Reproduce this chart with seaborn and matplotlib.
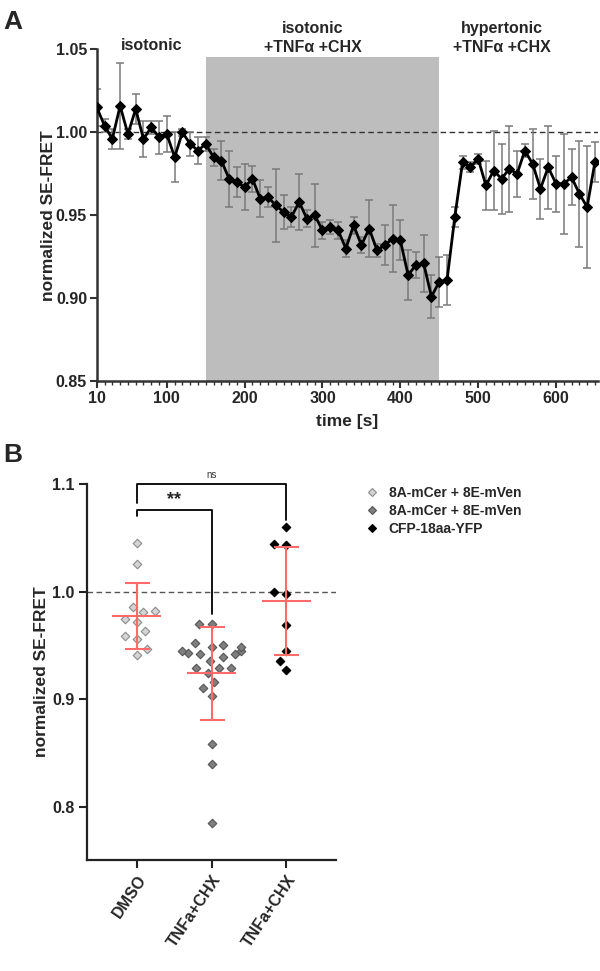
'''
SE-FRET time course (A) and end-point scatter (B)
'''

import numpy as np
import pandas as pd
import matplotlib.pyplot as plt
from matplotlib.lines import Line2D
from matplotlib.markers import MarkerStyle
from matplotlib.transforms import Affine2D
import seaborn as sns

# ---- Panel A data: mean +/- SEM every 10 s ----
time_s = list(range(10, 660, 10))
fret_mean = [1.015, 1.004, 0.996, 1.016, 0.999, 1.014, 0.996, 1.003, 0.997, 0.999,
             0.985, 1.000, 0.993, 0.989, 0.993, 0.985, 0.983, 0.972, 0.970, 0.967,
             0.972, 0.960, 0.961, 0.956, 0.952, 0.949, 0.958, 0.948, 0.950, 0.941,
             0.943, 0.941, 0.930, 0.944, 0.932, 0.942, 0.929, 0.932, 0.936, 0.935,
             0.914, 0.920, 0.921, 0.901, 0.910, 0.911, 0.949, 0.982, 0.979, 0.984,
             0.968, 0.977, 0.972, 0.978, 0.975, 0.989, 0.981, 0.966, 0.979, 0.969,
             0.969, 0.973, 0.963, 0.955, 0.982]
fret_sem = [0.011, 0.004, 0.006, 0.026, 0.003, 0.009, 0.011, 0.004, 0.010, 0.011,
            0.015, 0.002, 0.007, 0.008, 0.004, 0.005, 0.012, 0.017, 0.009, 0.014,
            0.008, 0.011, 0.006, 0.022, 0.010, 0.006, 0.017, 0.005, 0.019, 0.005,
            0.004, 0.005, 0.005, 0.005, 0.005, 0.017, 0.004, 0.012, 0.020, 0.012,
            0.015, 0.008, 0.017, 0.013, 0.015, 0.015, 0.006, 0.004, 0.003, 0.003,
            0.015, 0.024, 0.021, 0.026, 0.014, 0.004, 0.021, 0.018, 0.025, 0.017,
            0.030, 0.017, 0.032, 0.037, 0.012]
treat_start, treat_end = 150, 450
x_ticks_a = [10, 100, 200, 300, 400, 500, 600]

# ---- Panel B data: single cells ----
groups = ['DMSO', 'TNF_8A8E', 'TNF_CFP']
group_ticklabels = ['DMSO', 'TNFa+CHX', 'TNFa+CHX']
legend_labels = ['8A-mCer + 8E-mVen', '8A-mCer + 8E-mVen', 'CFP-18aa-YFP']
dmso = [1.045, 1.026, 0.986, 0.981, 0.982, 0.972, 0.975, 0.964, 0.959, 0.956,
        0.947, 0.941]
tnf_8a8e = [0.970, 0.970, 0.949, 0.945, 0.951, 0.952, 0.949, 0.943, 0.945, 0.942,
            0.942, 0.939, 0.936, 0.929, 0.929, 0.929, 0.925, 0.916, 0.911, 0.903,
            0.859, 0.840, 0.785]
tnf_cfp = [1.060, 1.043, 1.044, 0.998, 1.000, 0.969, 0.945, 0.936, 0.927]
fills = ['#d4d4d4', '#7f7f7f', '#000000']
edges = ['#8c8c8c', '#555555', '#000000']
red = '#ff6b6b'

df = pd.DataFrame({
    'group': ['DMSO'] * len(dmso) + ['TNF_8A8E'] * len(tnf_8a8e) + ['TNF_CFP'] * len(tnf_cfp),
    'fret': dmso + tnf_8a8e + tnf_cfp,
})

sns.set_theme(style='ticks')
plt.rcParams['font.family'] = ['Liberation Sans', 'DejaVu Sans']
plt.rcParams['font.weight'] = 'bold'
plt.rcParams['axes.labelweight'] = 'bold'

fig = plt.figure(figsize=(6, 9.71), dpi=100)
axA = fig.add_axes([0.1613, 0.6073, 0.8354, 0.3419])
axB = fig.add_axes([0.145, 0.1143, 0.415, 0.3872])

# ---------------- Panel A ----------------
axA.axvspan(treat_start, treat_end, ymin=0, ymax=0.977, color='#bdbdbd', lw=0, zorder=0)
axA.axhline(1.0, color='#333333', lw=1, ls=(0, (4, 2.5)), zorder=1)
axA.errorbar(time_s, fret_mean, yerr=fret_sem, fmt='none', ecolor='#7a7a7a',
             elinewidth=1.1, capsize=2.8, capthick=1.1, zorder=2)
sns.lineplot(x=time_s, y=fret_mean, ax=axA, color='black', lw=2, marker='D',
             markersize=5, markeredgecolor='black', zorder=3)

axA.set_xlim(10, 654)
axA.set_ylim(0.85, 1.05)
axA.set_xticks(x_ticks_a)
axA.set_xticks(list(range(10, 660, 10)), minor=True)
axA.set_yticks([0.85, 0.90, 0.95, 1.00, 1.05])
axA.set_yticklabels(['0.85', '0.90', '0.95', '1.00', '1.05'])
axA.tick_params(axis='both', which='major', labelsize=11.5, length=5, width=1.5, color='#333333', pad=2)
axA.tick_params(axis='x', which='minor', length=3, width=1, color='#333333')
axA.set_xlabel('time [s]', fontsize=12.5, labelpad=6)
axA.set_ylabel('normalized SE-FRET', fontsize=12.5, labelpad=0)
for s in ['top', 'right']:
    axA.spines[s].set_visible(False)
for s in ['left', 'bottom']:
    axA.spines[s].set_linewidth(1.8)
    axA.spines[s].set_color('#333333')

axA.text(81, 1.0523, 'isotonic', ha='center', va='center', fontsize=11.5, clip_on=False)
axA.text(287, 1.0628, 'isotonic', ha='center', va='center', fontsize=11.5, clip_on=False)
axA.text(287, 1.0514, '+TNF\u03b1 +CHX', ha='center', va='center', fontsize=11.5, clip_on=False)
axA.text(531, 1.0628, 'hypertonic', ha='center', va='center', fontsize=11.5, clip_on=False)
axA.text(531, 1.0514, '+TNF\u03b1 +CHX', ha='center', va='center', fontsize=11.5, clip_on=False)

# ---------------- Panel B ----------------
# diamond shrunk so the swarm spacing (computed for round dots) leaves gaps
small_diamond = MarkerStyle('D', transform=Affine2D().scale(0.58))
axB.axhline(1.0, color='#555555', lw=1, ls=(0, (4, 2.5)), zorder=1)
for g, fc, ec in zip(groups, fills, edges):
    sns.swarmplot(data=df[df['group'] == g], x='group', y='fret', order=groups, ax=axB,
                  color=fc, edgecolor=ec, linewidth=0.8, marker=small_diamond, size=7.5, zorder=3)

for i, vals in enumerate([dmso, tnf_8a8e, tnf_cfp]):
    m = np.mean(vals)
    sd = np.std(vals, ddof=1)
    axB.errorbar(i, m, yerr=sd, fmt='none', ecolor=red, elinewidth=1.5,
                 capsize=9, capthick=1.5, zorder=5)
    axB.hlines(m, i - 0.33, i + 0.33, color=red, lw=1.5, zorder=5)

# significance brackets
axB.plot([0, 0, 2, 2], [1.0825, 1.100, 1.100, 1.067], color='black', lw=1.3, clip_on=False)
axB.text(1, 1.104, 'ns', ha='center', va='bottom', fontsize=7, fontweight='normal',
         color='#333333', clip_on=False)
axB.plot([0, 0, 1, 1], [1.070, 1.076, 1.076, 0.979], color='black', lw=1.3)
axB.text(0.5, 1.0775, '**', ha='center', va='bottom', fontsize=13, clip_on=False)

axB.set_xlim(-0.667, 2.667)
axB.set_ylim(0.751, 1.1)
axB.set_yticks([0.8, 0.9, 1.0, 1.1])
axB.set_yticklabels(['0.8', '0.9', '1.0', '1.1'])
axB.set_xticks([0, 1, 2])
axB.set_xticklabels(group_ticklabels, rotation=56, ha='right', rotation_mode='anchor')
axB.tick_params(axis='both', labelsize=11.5, length=6, width=1.5, color='#222222', pad=3)
axB.set_xlabel('')
axB.set_ylabel('normalized SE-FRET', fontsize=12.5, labelpad=2)
for s in ['top', 'right']:
    axB.spines[s].set_visible(False)
for s in ['left', 'bottom']:
    axB.spines[s].set_linewidth(1.6)
    axB.spines[s].set_color('#222222')

handles = [Line2D([], [], ls='none', marker='D', markersize=4.5, markerfacecolor=fc,
                  markeredgecolor=ec, markeredgewidth=0.8) for fc, ec in zip(fills, edges)]
fig.legend(handles, legend_labels, loc='upper left', bbox_to_anchor=(365 / 600, 1 - 486 / 971),
           frameon=False, fontsize=10, handlelength=1.0, handletextpad=0.7,
           labelspacing=0.28, borderpad=0, borderaxespad=0)

fig.text(3 / 600, 1 - 22 / 971, 'A', fontsize=19, fontweight='bold', va='center', ha='left')
fig.text(3 / 600, 1 - 455 / 971, 'B', fontsize=19, fontweight='bold', va='center', ha='left')

fig.savefig('out.png', dpi=100, facecolor='white')
